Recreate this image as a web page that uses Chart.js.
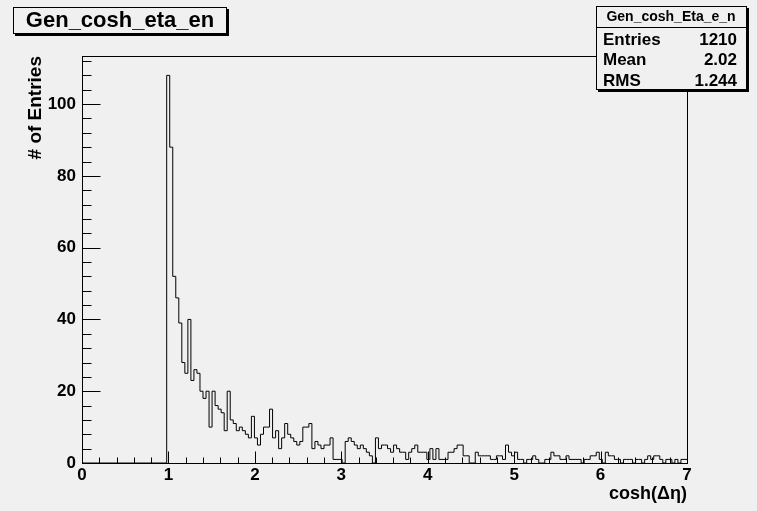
<!DOCTYPE html>
<html>
<head>
<meta charset="utf-8">
<script src="https://cdn.jsdelivr.net/npm/chart.js@4.4.1/dist/chart.umd.min.js"></script>
<style>
html, body { margin: 0; padding: 0; background: #f0f0f0; }
canvas { display: block; }
</style>
</head>
<body>
<canvas id="hist" width="757" height="511"></canvas>
<script>
// histogram definition: 200 bins from 0 to 7
const binLow = 0;
const binHigh = 7;
const counts = [
  0,0,0,0,0,0,0,0,0,0, 0,0,0,0,0,0,0,0,0,0, 0,0,0,0,0,0,0,0,
  108,88,52,46,39,28,25,40,23,26,25,20,18,20,10,20,16,15,14,9,20,12,11,9,10,9,8,7,13,
  7,5,8,10,10,15,7,9,4,7,11,8,7,6,5,6,10,10,11,4,6,5,4,5,5,7,
  1,1,1,0,6,7,6,5,4,5,4,3,2,0,7,
  4,5,5,4,3,5,4,3,3,1,3,4,5,3,3,3,1,4,1,4,1,1,1,3,3,4,5,
  5,2,2,0,0,3,2,2,2,2,1,1,2,2,1,5,3,2,3,1,1,0,1,1,2,1,0,0,1,1,3,2,2,1,1,2,1,
  1,1,1,0,1,1,2,2,3,1,0,3,2,2,1,1,0,1,1,1,0,1,1,0,1,2,1,2,2,1,0,1,1,0,1,0,1,1
];
const xTicks = [0, 1, 2, 3, 4, 5, 6, 7];
const yTicks = [0, 20, 40, 60, 80, 100];
const yMax = 113.4;

const histTitle = 'Gen_cosh_eta_en';
const statsName = 'Gen_cosh_Eta_e_n';
const statLabels = ['Entries', 'Mean', 'RMS'];
const statValues = ['1210', '2.02', '1.244'];

const FONT = "'Liberation Sans', Arial, Helvetica, sans-serif";
Chart.defaults.font.family = FONT;
Chart.defaults.color = '#000';

// step outline: one point per bin low edge, plus the upper edge of the last bin
const binWidth = (binHigh - binLow) / counts.length;
const points = counts.map((c, i) => ({ x: binLow + i * binWidth, y: c }));
points.push({ x: binHigh, y: counts[counts.length - 1] });

const crisp = v => Math.round(v) + 0.5;

function drawPave(ctx, x1, y1, x2, y2) {
  ctx.fillStyle = '#000';
  ctx.fillRect(x1 + 2, y1 + 2, x2 - x1 + 1, y2 - y1 + 1);
  ctx.fillStyle = '#f0f0f0';
  ctx.fillRect(x1, y1, x2 - x1, y2 - y1);
  ctx.strokeStyle = '#000';
  ctx.lineWidth = 1;
  ctx.strokeRect(x1 + 0.5, y1 + 0.5, x2 - x1, y2 - y1);
}

const rootFrame = {
  id: 'rootFrame',
  afterDraw(chart) {
    const { ctx, chartArea: a, scales: { x, y } } = chart;
    ctx.save();
    ctx.strokeStyle = '#000';
    ctx.lineWidth = 1;
    const L = crisp(a.left), R = crisp(a.right), T = crisp(a.top), B = crisp(a.bottom);
    ctx.strokeRect(L, T, R - L, B - T);

    // ticks point into the frame, like ROOT
    ctx.beginPath();
    const xStep = (xTicks[1] - xTicks[0]) / 5;
    for (let v = xTicks[0]; v <= xTicks[xTicks.length - 1] + 1e-9; v += xStep) {
      const px = crisp(x.getPixelForValue(v));
      const major = xTicks.some(t => Math.abs(t - v) < 1e-6);
      ctx.moveTo(px, B);
      ctx.lineTo(px, B - (major ? 12 : 6));
    }
    const yStep = (yTicks[1] - yTicks[0]) / 5;
    for (let v = yTicks[0]; v <= yMax; v += yStep) {
      const py = crisp(y.getPixelForValue(v));
      const major = yTicks.includes(v);
      ctx.moveTo(L, py);
      ctx.lineTo(L + (major ? 18 : 9), py);
    }
    ctx.stroke();

    // title pave
    drawPave(ctx, 13, 7, 226, 33);
    ctx.fillStyle = '#000';
    ctx.textAlign = 'center';
    ctx.textBaseline = 'middle';
    ctx.font = 'bold 22px ' + FONT;
    ctx.fillText(histTitle, 120, 21);

    // stats pave
    drawPave(ctx, 596, 6, 746, 89);
    ctx.beginPath();
    ctx.moveTo(596, 27.5);
    ctx.lineTo(746, 27.5);
    ctx.stroke();
    ctx.fillStyle = '#000';
    ctx.font = 'bold 14px ' + FONT;
    ctx.textAlign = 'center';
    ctx.fillText(statsName, 671, 17);
    ctx.font = 'bold 17px ' + FONT;
    const rowY = [40, 60.5, 81];
    statLabels.forEach((lab, i) => {
      ctx.textAlign = 'left';
      ctx.fillText(lab, 603, rowY[i]);
      ctx.textAlign = 'right';
      ctx.fillText(statValues[i], 737, rowY[i]);
    });
    ctx.restore();
  }
};

new Chart(document.getElementById('hist'), {
  type: 'line',
  data: {
    datasets: [{
      label: histTitle,
      data: points,
      stepped: 'before',
      borderColor: '#000',
      borderWidth: 1,
      pointRadius: 0,
      fill: false,
      tension: 0
    }]
  },
  options: {
    responsive: false,
    animation: false,
    devicePixelRatio: 1,
    layout: { padding: { left: 0, right: 70, top: 56, bottom: 0 } },
    plugins: { legend: { display: false }, tooltip: { enabled: false } },
    scales: {
      x: {
        type: 'linear',
        min: binLow,
        max: binHigh,
        afterFit: s => { s.height = 48; },
        afterBuildTicks: s => { s.ticks = xTicks.map(v => ({ value: v })); },
        grid: { display: false, drawTicks: false },
        border: { display: false },
        ticks: { font: { size: 17, weight: 'bold' }, padding: 2, maxRotation: 0, autoSkip: false },
        title: {
          display: true, text: 'cosh(Δη)', align: 'end',
          font: { size: 18, weight: 'bold' }, padding: { top: 0, bottom: 6 }
        }
      },
      y: {
        min: 0,
        max: yMax,
        afterFit: s => { s.width = 82; },
        afterBuildTicks: s => { s.ticks = yTicks.map(v => ({ value: v })); },
        grid: { display: false, drawTicks: false },
        border: { display: false },
        ticks: { font: { size: 17, weight: 'bold' }, padding: 6 },
        title: {
          display: true, text: '# of Entries', align: 'end',
          font: { size: 19, weight: 'bold' }, padding: { top: 24, bottom: 0 }
        }
      }
    }
  },
  plugins: [rootFrame]
});
</script>
</body>
</html>
